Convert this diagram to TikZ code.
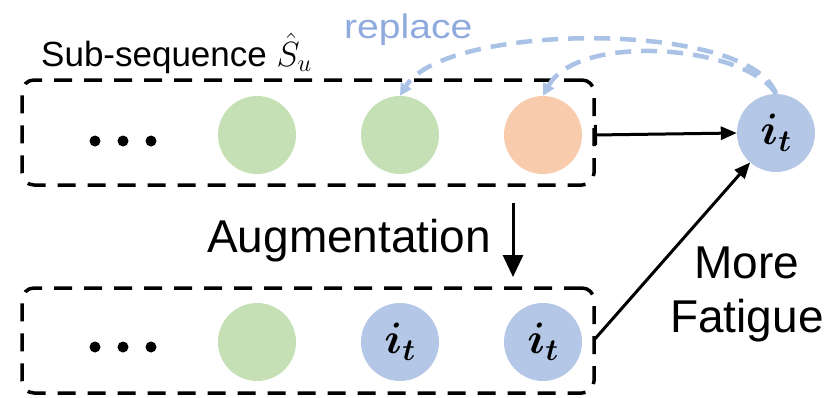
\RequirePackage{fix-cm}
\documentclass[tikz,border=0pt]{standalone}
\usepackage{amsmath}
\usepackage{bm}
\usepackage{fontspec}
\setmainfont{Liberation Sans}
\usetikzlibrary{arrows.meta}
\definecolor{cgreen}{HTML}{C5E0B4}
\definecolor{corange}{HTML}{F8CBAD}
\definecolor{cblue}{HTML}{B4C7E7}
\definecolor{ctext}{HTML}{8FAADC}
\definecolor{cdash}{HTML}{A9C2E6}
\begin{document}
\begin{tikzpicture}[x=1pt,y=-1pt,
  seqbox/.style={draw=black,line width=3.5pt,dash pattern=on 18pt off 12pt,rounded corners=12pt},
  ball/.style={circle,minimum size=78pt,inner sep=0pt},
  gball/.style={ball,fill=cgreen},
  oball/.style={ball,fill=corange},
  bball/.style={ball,fill=cblue,font=\fontsize{44}{48}\selectfont},
  dot/.style={circle,fill=black,minimum size=11pt,inner sep=0pt},
  blackarrow/.style={line width=3pt,-{Triangle[length=16pt,width=13pt]}},
  bluearrow/.style={draw=cdash,line width=4.5pt,dash pattern=on 16pt off 10pt,-{Triangle[length=12pt,width=12pt]}},
  bigtext/.style={font=\fontsize{46}{50}\selectfont,inner sep=0pt},
]
\useasboundingbox (0,0) rectangle (828,397);
% boxes
\node[seqbox,minimum width=572pt,minimum height=105pt,inner sep=0pt] (top) at (308,132.5) {};
\node[seqbox,minimum width=572pt,minimum height=105pt,inner sep=0pt] (bot) at (308,340.5) {};
% top row
\node[dot] (d1) at (95,141) {};
\node[dot] (d2) at (123,141) {};
\node[dot] (d3) at (151,141) {};
\node[gball] (c1) at (257,135) {};
\node[gball] (c2) at (400,135) {};
\node[oball] (c3) at (543,135) {};
% bottom row
\node[dot] (e1) at (95,347) {};
\node[dot] (e2) at (123,347) {};
\node[dot] (e3) at (151,347) {};
\node[gball] (b1) at (257,342) {};
\node[bball] (b2) at (400,342) {$\boldsymbol{i_t}$};
\node[bball] (b3) at (543,342) {$\boldsymbol{i_t}$};
% target item
\node[bball] (it) at (776,133) {$\boldsymbol{i_t}$};
% labels
\node[font=\fontsize{35}{40}\selectfont,anchor=base west,inner sep=0pt] (sub) at (41,66) {Sub-sequence $\hat{S}_u$};
\node[font=\fontsize{34}{38}\selectfont,text=ctext,anchor=base west,inner sep=0pt] (rep) at (344,38) {\scalebox{1.15}[1]{replace}};
\node[bigtext,anchor=base west] (aug) at (207,252) {Augmentation};
\node[bigtext,anchor=base] (more) at (747,278) {More};
\node[bigtext,anchor=base] (fat) at (747,332) {Fatigue};
% arrows
\coordinate (ta) at (594,135);
\coordinate (ba) at (594,340);
\coordinate (as) at (513,203);
\coordinate (ae) at (513,277);
\draw[line width=3pt,{Bar[width=20pt,line width=3pt]}-{Triangle[length=16pt,width=13pt]}] (ta) -- (it.west);
\draw[blackarrow] (ba) -- (it);
\draw[line width=3pt,-{Triangle[length=22pt,width=20pt]}] (as) -- (ae);
\draw[bluearrow] (it.north) .. controls (750,20) and (445,22) .. (c2.north);
\draw[bluearrow] (it.north) .. controls (745,45) and (578,32) .. (c3.north);
\end{tikzpicture}
\end{document}
